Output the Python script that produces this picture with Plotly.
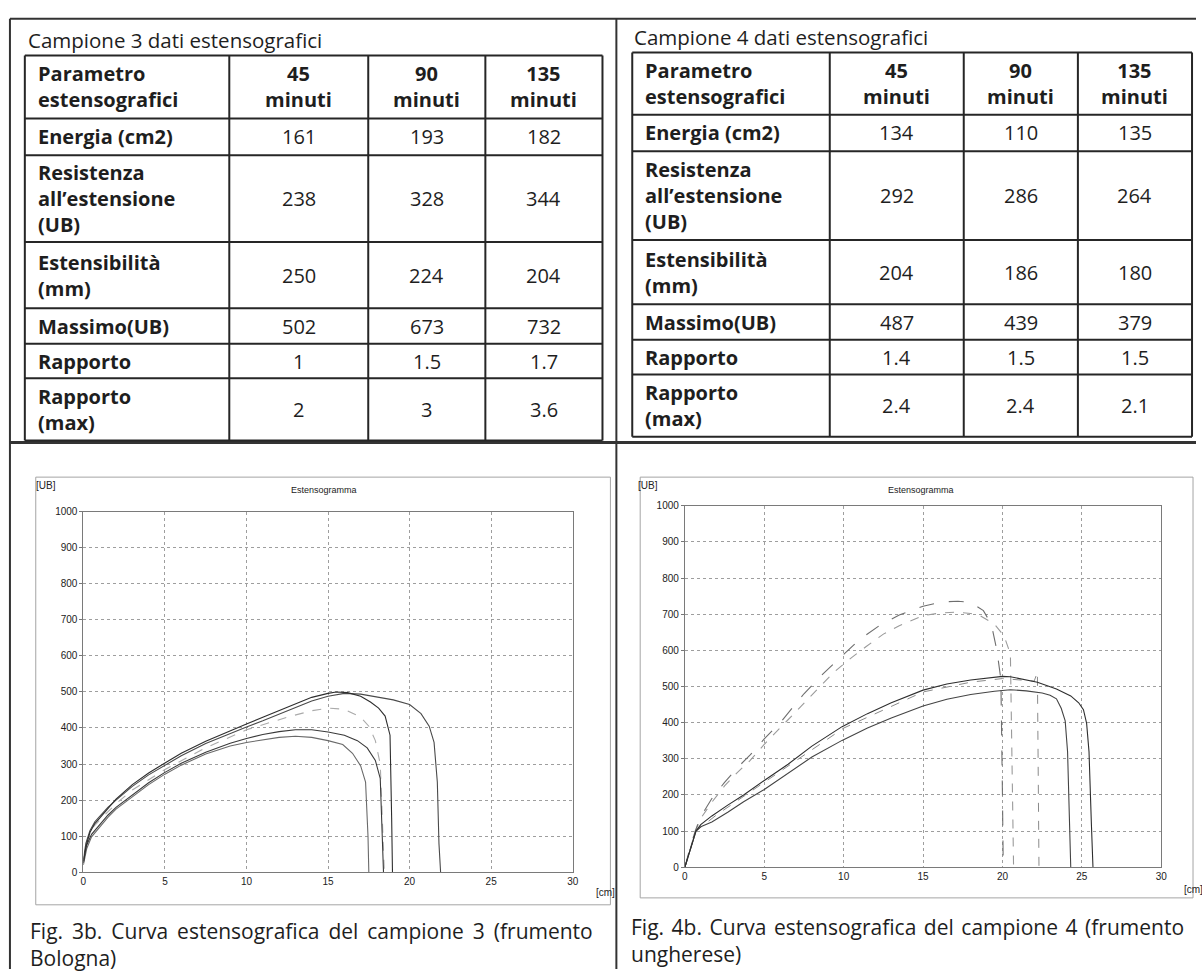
import plotly.graph_objects as go

W, H = 1202, 975


def fx(p):
    return p / W


def fy(p):
    return 1 - p / H


# ---------------- table data ----------------
col_headers = ["Parametro<br>estensografici", "45<br>minuti", "90<br>minuti", "135<br>minuti"]
row_labels = [
    "Energia (cm2)",
    "Resistenza<br>all’estensione<br>(UB)",
    "Estensibilità<br>(mm)",
    "Massimo(UB)",
    "Rapporto",
    "Rapporto<br>(max)",
]
c3_45 = [161, 238, 250, 502, 1, 2]
c3_90 = [193, 328, 224, 673, 1.5, 3]
c3_135 = [182, 344, 204, 732, 1.7, 3.6]
c4_45 = [134, 292, 204, 487, 1.4, 2.4]
c4_90 = [110, 286, 186, 439, 1.5, 2.4]
c4_135 = [135, 264, 180, 379, 1.5, 2.1]

caption3 = ["Fig. 3b. Curva estensografica del campione 3 (frumento", "Bologna)"]
caption4 = ["Fig. 4b. Curva estensografica del campione 4 (frumento", "ungherese)"]

# ---------------- curve data (x in cm, y in UB) ----------------
c3_u1_x = [0, 0.15, 0.4, 0.7, 1.0, 1.5, 2.0, 3.0, 4.0, 5.0, 6.0, 7.5, 9.0, 10.0, 11.0, 12.5, 14.0, 15.0, 15.5,
           16.2, 17.0, 17.6, 18.1, 18.5, 18.8, 18.9, 18.95]
c3_u1_y = [25, 70, 110, 135, 150, 178, 203, 243, 275, 303, 330, 363, 393, 411, 430, 458, 485, 496, 500,
           498, 488, 472, 455, 433, 380, 150, 0]
c3_u2_x = [0, 0.15, 0.4, 0.7, 1.0, 1.5, 2.0, 3.0, 4.0, 5.0, 6.0, 7.5, 9.0, 10.0, 11.0, 12.5, 14.0, 15.0, 16.0,
           17.0, 18.0, 19.0, 20.0, 20.7, 21.2, 21.5, 21.7, 21.8, 21.9]
c3_u2_y = [35, 80, 115, 140, 155, 180, 200, 238, 270, 297, 323, 357, 385, 403, 420, 448, 475, 488, 496,
           494, 487, 478, 465, 440, 405, 360, 250, 80, 0]
c3_m_x = [0, 0.2, 0.5, 1.0, 2.0, 3.0, 5.0, 7.5, 10.0, 12.5, 14.0, 15.0, 16.0, 17.0, 17.5, 17.9, 18.2, 18.35, 18.45]
c3_m_y = [30, 85, 120, 145, 190, 228, 285, 345, 395, 430, 448, 455, 452, 430, 405, 365, 300, 120, 0]
c3_l1_x = [0, 0.2, 0.5, 1.0, 1.5, 2.0, 3.0, 4.0, 5.0, 6.0, 7.5, 9.0, 10.0, 11.0, 12.0, 13.0, 14.0, 15.0, 16.0,
           16.8, 17.4, 17.9, 18.2, 18.3, 18.4]
c3_l1_y = [30, 75, 105, 132, 158, 180, 215, 248, 277, 302, 333, 358, 371, 382, 390, 395, 395, 389, 380,
           365, 345, 310, 260, 100, 0]
c3_l2_x = [0, 0.2, 0.5, 1.0, 1.5, 2.0, 3.0, 4.0, 5.0, 6.0, 7.5, 9.0, 10.0, 11.0, 12.0, 13.0, 14.0, 15.0, 15.9,
           16.5, 17.0, 17.3, 17.45, 17.5]
c3_l2_y = [20, 65, 98, 125, 152, 175, 210, 243, 272, 297, 328, 350, 360, 368, 374, 377, 374, 365, 354,
           330, 295, 250, 100, 0]

c4_u1_x = [0, 0.3, 0.65, 1.0, 1.7, 2.5, 3.3, 4.1, 5.0, 6.1, 7.5, 8.7, 9.9, 11.0, 12.3, 13.5, 15.0, 16.2, 17.2,
           18.0, 18.8, 19.3, 19.65, 19.9, 20.0, 20.05]
c4_u1_y = [0, 50, 100, 140, 190, 235, 275, 310, 355, 405, 480, 535, 585, 630, 670, 698, 722, 734, 736,
           733, 710, 672, 600, 520, 200, 0]
c4_u2_x = [0, 0.3, 0.65, 1.0, 1.7, 2.5, 3.3, 4.1, 5.0, 6.1, 7.5, 8.4, 9.4, 10.5, 11.4, 12.5, 13.5, 15.0, 16.0,
           17.1, 18.0, 18.6, 19.5, 20.1, 20.5, 20.6, 20.7]
c4_u2_y = [0, 48, 98, 135, 180, 225, 262, 295, 340, 390, 455, 495, 540, 580, 610, 645, 668, 696, 703,
           706, 702, 696, 672, 640, 590, 300, 0]
c4_l1_x = [0, 0.35, 0.7, 1.0, 1.7, 2.7, 3.7, 5.0, 6.5, 8.0, 9.9, 11.5, 13.0, 15.0, 16.5, 18.0, 19.0, 20.0, 20.5,
           21.3, 22.2, 23.4, 24.3, 24.8, 25.1, 25.3, 25.45, 25.6, 25.7]
c4_l1_y = [0, 50, 100, 118, 142, 172, 200, 240, 285, 335, 389, 425, 455, 490, 507, 518, 524, 528, 527,
           520, 512, 493, 474, 455, 436, 398, 320, 120, 0]
c4_l2_x = [0, 0.35, 0.7, 1.0, 1.7, 2.7, 3.7, 5.0, 6.5, 8.0, 9.9, 11.5, 13.0, 15.0, 16.5, 18.0, 19.5, 20.5, 21.5,
           22.5, 23.0, 23.4, 23.7, 23.95, 24.1, 24.2, 24.3]
c4_l2_y = [0, 50, 100, 112, 125, 152, 181, 215, 260, 305, 351, 385, 413, 446, 465, 478, 487, 491, 488,
           482, 476, 466, 440, 405, 320, 120, 0]
c4_d_x = [0, 0.7, 2.0, 5.0, 10.0, 15.0, 18.0, 20.0, 21.0, 22.0, 22.2, 22.25, 22.3]
c4_d_y = [0, 100, 145, 235, 385, 485, 512, 522, 518, 515, 540, 300, 0]

# ---------------- styling ----------------
TXT = "Open Sans"
CHART_FONT = "Liberation Sans"
INK = "#262626"

fig = go.Figure()
shapes = []
annotations = []


def line(x0, y0, x1, y1, width=2, color=INK, dash=None):
    shp = dict(type="line", xref="paper", yref="paper", x0=fx(x0), y0=fy(y0), x1=fx(x1), y1=fy(y1),
               line=dict(color=color, width=width))
    if dash:
        shp["line"]["dash"] = dash
    shapes.append(shp)


def text(x, y, s, size=20, bold=False, xanchor="left", yanchor="middle", align="left", family=TXT,
         color="#1e1e1e"):
    annotations.append(dict(
        x=fx(x), y=fy(y), xref="paper", yref="paper", text=f"<b>{s}</b>" if bold else s,
        showarrow=False, xanchor=xanchor, yanchor=yanchor, align=align,
        font=dict(family=family, size=size, color=color)))


def fmt(v):
    return str(v)


def add_table(title, tx, ty, cols, rows, columns):
    text(tx, ty, title, size=20.5)
    for c in cols:
        line(c, rows[0], c, rows[-1], width=2)
    for r in rows:
        line(cols[0], r, cols[-1], r, width=2)
    # header
    hy = (rows[0] + rows[1]) / 2
    text(cols[0] + 11, hy, col_headers[0], size=20, bold=True)
    for j in range(1, 4):
        text((cols[j] + cols[j + 1]) / 2, hy, col_headers[j], size=20, bold=True,
             xanchor="center", align="center")
    # body
    for i, lab in enumerate(row_labels):
        cy = (rows[i + 1] + rows[i + 2]) / 2
        text(cols[0] + 11, cy, lab, size=20, bold=True)
        for j, vals in enumerate(columns):
            text((cols[j + 1] + cols[j + 2]) / 2, cy, fmt(vals[i]), size=20, xanchor="center", align="center")


def caption(lines, x, y_top, gap):
    # first line is spread out (justified) with extra space between words
    first = (" " + gap).join(lines[0].split(" "))
    text(x, y_top, first + "<br>" + lines[1], size=21, yanchor="top")


# page frame
line(7, 13, W, 13, width=2, color="#333")
line(7, 13, 7, H, width=2, color="#333")
line(618, 13, 618, H, width=2, color="#333")
line(7, 442, W, 442, width=3, color="#333")

add_table("Campione 3 dati estensografici", 23, 34,
          [22, 228, 368, 486, 604], [50, 114, 151, 239, 306, 342, 377, 440],
          [c3_45, c3_90, c3_135])
add_table("Campione 4 dati estensografici", 634, 31,
          [634, 833, 968, 1083, 1198], [47, 110, 147, 237, 302, 338, 373, 436],
          [c4_45, c4_90, c4_135])

# chart frames
for (l, t, r, b) in [(33, 477, 612, 910), (642, 477, 1199, 903)]:
    shapes.append(dict(type="rect", xref="paper", yref="paper", x0=fx(l), y0=fy(b), x1=fx(r), y1=fy(t),
                       line=dict(color="#a5a5a5", width=1)))

# chart labels
text(31, 485, "[UB]", size=10, family=CHART_FONT, color="#222")
text(323, 490, "Estensogramma", size=9, family=CHART_FONT, xanchor="center", color="#222")
text(595, 898, "[cm]", size=10, family=CHART_FONT, color="#222")
text(638, 485, "[UB]", size=10, family=CHART_FONT, color="#222")
text(925, 490, "Estensogramma", size=9, family=CHART_FONT, xanchor="center", color="#222")
text(1188, 895, "[cm]", size=10, family=CHART_FONT, color="#222")

# captions
caption(caption3, 25, 920, "\u2009")
caption(caption4, 631, 916, "\u200a")


# curves
def curve(xs, ys, ax, color, width=1.1, dash="solid"):
    fig.add_trace(go.Scatter(x=xs, y=ys, mode="lines", xaxis=ax[0], yaxis=ax[1], hoverinfo="skip",
                             line=dict(color=color, width=width, dash=dash), showlegend=False))


A1 = ("x", "y")
A2 = ("x2", "y2")
curve(c3_m_x, c3_m_y, A1, "#aaaaaa", 1.1, "dash")
curve(c3_l2_x, c3_l2_y, A1, "#6a6a6a", 1.1)
curve(c3_l1_x, c3_l1_y, A1, "#3a3a3a", 1.1)
curve(c3_u2_x, c3_u2_y, A1, "#4a4a4a", 1.1)
curve(c3_u1_x, c3_u1_y, A1, "#2e2e2e", 1.1)

curve(c4_d_x, c4_d_y, A2, "#8a8a8a", 1.0, "dash")
curve(c4_u2_x, c4_u2_y, A2, "#9a9a9a", 1.1, "dash")
curve(c4_u1_x, c4_u1_y, A2, "#6e6e6e", 1.1, "longdash")
curve(c4_l2_x, c4_l2_y, A2, "#444444", 1.1)
curve(c4_l1_x, c4_l1_y, A2, "#2e2e2e", 1.1)

axis_common = dict(showgrid=True, gridcolor="#9e9e9e", griddash="dot", gridwidth=1,
                   showline=True, linecolor="#7a7a7a", linewidth=1, mirror=True, zeroline=False,
                   tickfont=dict(family=CHART_FONT, size=10, color="#222"), fixedrange=True)

fig.update_layout(
    width=W, height=H,
    margin=dict(l=0, r=0, t=0, b=0),
    paper_bgcolor="white", plot_bgcolor="white",
    showlegend=False,
    xaxis=dict(domain=[fx(81), fx(574)], range=[0, 30], tickvals=[0, 5, 10, 15, 20, 25, 30],
               ticks="", anchor="y", **axis_common),
    yaxis=dict(domain=[fy(877), fy(512)], range=[0, 1000], dtick=100, ticks="outside", ticklen=3,
               tickcolor="#777", anchor="x", **axis_common),
    xaxis2=dict(domain=[fx(687), fx(1167)], range=[0, 30], tickvals=[0, 5, 10, 15, 20, 25, 30],
                ticks="", anchor="y2", **axis_common),
    yaxis2=dict(domain=[fy(872), fy(506)], range=[0, 1000], dtick=100, ticks="outside", ticklen=3,
                tickcolor="#777", anchor="x2", **axis_common),
    shapes=shapes,
    annotations=annotations,
)

fig.write_html("out.html")
